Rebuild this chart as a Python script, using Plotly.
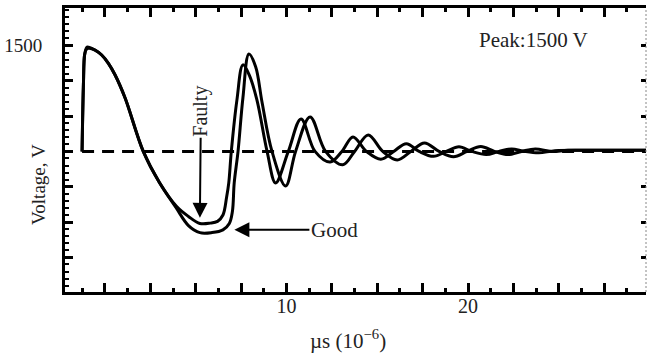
import plotly.graph_objects as go

# ---- data (µs, V) ----
faulty_t = [-1.26, -1.18, -1.12, -1.02, -0.91, -0.55, -0.18, 0.19, 0.56, 1.11, 2.11, 3.00, 3.95,
            4.60, 5.23, 5.80, 6.20, 6.50, 6.70, 6.82, 6.96, 7.27, 7.60, 7.95, 8.37, 8.93, 9.40,
            10.10, 10.80, 11.57, 12.40, 13.05, 13.66, 14.40, 15.20, 15.90, 16.60, 17.30, 18.10,
            18.80, 19.50, 20.20, 21.00, 21.70, 22.40, 23.10, 23.90, 24.80, 27.00, 29.80]
faulty_v = [0, 1000, 1370, 1445, 1459, 1435, 1365, 1247, 1081, 756, 0, -440, -780,
            -920, -1020, -1015, -990, -900, -650, -446, 0, 730, 1225, 1080, 730, 0, -446,
            0, 460, 0, -150, 0, 205, 0, -110, 0, 110, 0, -70,
            0, 65, 0, -45, 0, 35, 0, -20, 10, 15, 15]

good_t = [-1.26, -1.19, -1.10, -0.98, -0.82, -0.55, -0.18, 0.19, 0.56, 1.11, 2.11, 3.00, 3.90,
          4.60, 5.23, 5.90, 6.50, 6.85, 7.02, 7.12, 7.33, 7.60, 7.93, 8.30, 8.65, 9.20, 9.95,
          10.50, 11.30, 12.15, 13.10, 13.75, 14.50, 15.30, 16.10, 16.85, 17.60, 18.40, 19.20,
          19.95, 20.70, 21.45, 22.20, 22.95, 23.70, 24.60, 25.50, 27.50, 29.80]
good_v = [0, 900, 1400, 1478, 1470, 1435, 1365, 1247, 1081, 756, 0, -440, -790,
          -1050, -1150, -1148, -1110, -1020, -850, -446, 0, 760, 1380, 1200, 700, 0, -490,
          0, 488, 0, -190, 0, 233, 0, -120, 0, 120, 0, -75,
          0, 70, 0, -45, 0, 35, 0, 15, 15, 15]

ref_t = [-1.26, 29.8]
ref_v = [0, 0]

x_tick_vals = [0, 2.5, 5, 7.5, 10, 12.5, 15, 17.5, 20, 22.5, 25, 27.5]
x_tick_text = ["", "", "", "", "10", "", "", "", "20", "", "", ""]
y_tick_vals = [-1500, -1000, -500, 0, 500, 1000, 1500]
y_tick_text = ["", "", "", "", "", "", "1500"]

X_RANGE = [-2.2, 29.8]
Y_RANGE = [-1990, 2030]

FONT = "Liberation Serif"
TXT = "#222222"

fig = go.Figure()
fig.add_trace(go.Scatter(x=ref_t, y=ref_v, mode="lines", yaxis="y2",
                         line=dict(color="black", width=3, dash="12px,8px"),
                         hoverinfo="skip", showlegend=False))
fig.add_trace(go.Scatter(x=faulty_t, y=faulty_v, mode="lines", name="Faulty",
                         line=dict(color="black", width=3, shape="spline", smoothing=1.0),
                         showlegend=False))
fig.add_trace(go.Scatter(x=good_t, y=good_v, mode="lines", name="Good",
                         line=dict(color="black", width=3, shape="spline", smoothing=1.0),
                         showlegend=False))

fig.update_layout(
    width=647, height=353,
    margin=dict(l=65, r=1, t=8, b=61),
    paper_bgcolor="white", plot_bgcolor="white",
    font=dict(family=FONT, size=19, color=TXT),
    xaxis=dict(range=X_RANGE, showgrid=False, zeroline=False, automargin=False,
               showline=True, linewidth=3, linecolor="black", mirror="ticks",
               tickmode="array", tickvals=x_tick_vals, ticktext=x_tick_text,
               ticks="inside", ticklen=9, tickwidth=2.5, tickcolor="black",
               minor=dict(tickmode="linear", tick0=0, dtick=1.25, ticks="inside",
                          ticklen=4, tickwidth=2.5, tickcolor="black"),
               tickfont=dict(family=FONT, size=20, color=TXT), ticklabelstandoff=-6),
    yaxis=dict(range=Y_RANGE, showgrid=False, zeroline=False, automargin=False,
               showline=True, linewidth=3, linecolor="black",
               tickmode="array", tickvals=y_tick_vals, ticktext=y_tick_text,
               ticks="inside", ticklen=8, tickwidth=2.5, tickcolor="black",
               minor=dict(tickmode="linear", tick0=0, dtick=100, ticks="inside",
                          ticklen=3.5, tickwidth=2, tickcolor="black"),
               tickfont=dict(family=FONT, size=19, color=TXT), ticklabelstandoff=16),
    yaxis2=dict(range=Y_RANGE, overlaying="y", side="right", showgrid=False, automargin=False,
                zeroline=False, showline=False, showticklabels=False,
                tickmode="array", tickvals=[-1500, -1000, -500, 500, 1000, 1500],
                ticks="inside", ticklen=5, tickwidth=2.5, tickcolor="black"),
)

fig.add_shape(type="line", xref="paper", yref="paper", x0=1, x1=1, y0=0, y1=1,
              line=dict(color="#888888", width=1, dash="2px,2px"))

ann = [
    # Faulty label with its arrow pointing down to the upper minimum
    dict(x=5.23, y=-940, ax=1, ay=-107, text="Faulty", textangle=-90, showarrow=True,
         arrowhead=2, arrowsize=1.5, arrowwidth=2, arrowcolor="black", standoff=0,
         font=dict(family=FONT, size=20, color=TXT)),
    # Good label with its arrow pointing left to the lower minimum
    dict(x=7.13, y=-1110, ax=100, ay=0, text="Good", showarrow=True,
         arrowhead=2, arrowsize=1.5, arrowwidth=2, arrowcolor="black", standoff=0,
         font=dict(family=FONT, size=21, color=TXT)),
    dict(x=23.63, y=1580, text="Peak:1500 V", showarrow=False,
         xanchor="center", yanchor="middle",
         font=dict(family=FONT, size=21, color=TXT)),
    dict(xref="paper", x=-0.0448, y=-461, text="Voltage, V", textangle=-90, showarrow=False,
         xanchor="center", yanchor="middle",
         font=dict(family=FONT, size=19, color=TXT)),
    dict(x=13.36, yref="paper", y=-0.1655, text="µs (10<sup>−6</sup>)", showarrow=False,
         xanchor="center", yanchor="middle",
         font=dict(family=FONT, size=21, color=TXT)),
]
for a in ann:
    a.setdefault("xref", "x")
    a.setdefault("yref", "y")
    fig.add_annotation(**a)

fig.write_html("out.html", config={"displayModeBar": False},
               post_script="document.body.style.margin='0';document.body.style.overflow='hidden';")
